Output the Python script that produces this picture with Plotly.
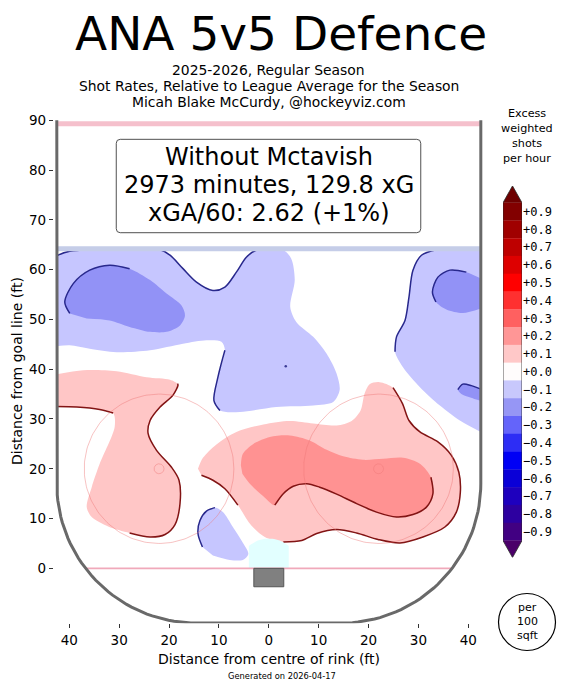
import numpy as np
import plotly.graph_objects as go

# ---------------- data ----------------
title = "ANA 5v5 Defence"
subtitle_lines = ["2025-2026, Regular Season",
                  "Shot Rates, Relative to League Average for the Season",
                  "Micah Blake McCurdy, @hockeyviz.com"]
box_lines = ["Without Mctavish", "2973 minutes, 129.8 xG", "xGA/60: 2.62 (+1%)"]

cbar_levels = [0.9, 0.8, 0.7, 0.6, 0.5, 0.4, 0.3, 0.2, 0.1, 0.0,
               -0.1, -0.2, -0.3, -0.4, -0.5, -0.6, -0.7, -0.8, -0.9]
cbar_colors = ["rgb(130,0,0)", "rgb(160,0,0)", "rgb(190,0,0)", "rgb(222,0,0)",
               "rgb(255,0,0)", "rgb(255,48,48)", "rgb(255,96,96)", "rgb(255,150,150)",
               "rgb(255,200,200)", "rgb(255,252,252)", "rgb(200,200,252)",
               "rgb(150,150,245)", "rgb(100,100,250)", "rgb(45,45,245)", "rgb(0,0,245)",
               "rgb(10,0,215)", "rgb(30,0,190)", "rgb(45,0,160)", "rgb(65,0,130)"]
cbar_over = "rgb(110,0,0)"
cbar_under = "rgb(75,0,105)"

x_tick_vals = [-40, -30, -20, -10, 0, 10, 20, 30, 40]
x_tick_text = ["40", "30", "20", "10", "0", "10", "20", "30", "40"]
y_tick_vals = [0, 10, 20, 30, 40, 50, 60, 70, 80, 90]

# contour regions (ft): level, x, y
regA_x = [-42.5, -39.9, -21.8, -19.8, -17.2, -14.5, -11.2, -8.8, -6.5, -4.5, -2.5, 2.9, 4.5, 5.2, 4.3,
          5.5, 8.9, 11.6, 13.6, 14.2, 12.9, 8.9, 1.5, -5.8, -9.8, -11.0, -10.2, -8.8, -9.5, -12.5,
          -17.2, -23.8, -30.5, -35.9, -39.9, -42.5]
regA_y = [62.8, 63.7, 64.0, 62.9, 60.2, 57.5, 55.8, 56.5, 59.5, 62.5, 63.9, 63.9, 62.2, 57.9, 52.5,
          49.5, 46.5, 43.1, 39.1, 35.8, 33.4, 32.7, 32.4, 31.4, 31.7, 33.7, 38.4, 43.8, 45.5, 45.8,
          45.1, 43.8, 43.4, 44.1, 44.8, 44.6]
regB_x = [-39.9, -40.9, -39.2, -35.9, -31.9, -27.9, -23.8, -20.5, -17.5, -16.8, -17.8, -20.5, -23.8,
          -27.9, -31.9, -36.5]
regB_y = [51.2, 53.5, 57.2, 59.9, 60.9, 60.2, 57.9, 55.2, 52.8, 50.8, 48.8, 47.5, 47.5, 48.5, 49.8, 50.2]
regC_x = [42.5, 33.6, 30.6, 28.9, 28.1, 27.3, 25.6, 25.3, 26.9, 30.3, 34.3, 38.3, 42.5]
regC_y = [64.0, 64.0, 62.9, 59.9, 54.5, 49.8, 46.5, 43.5, 40.4, 36.4, 32.7, 29.7, 27.4]
regD_x = [42.5, 39.6, 36.3, 33.9, 32.8, 33.5, 35.6, 38.9, 42.5]
regD_y = [58.2, 59.5, 59.9, 58.5, 55.5, 53.5, 52.0, 51.3, 52.2]
regE_x = [42.5, 40.6, 38.9, 37.9, 38.6, 40.4, 42.5]
regE_y = [36.0, 36.7, 37.0, 35.9, 35.0, 34.3, 33.6]
regF_x = [-42.5, -37.2, -30.5, -24.5, -19.8, -18.3, -18.2, -19.2, -21.8, -23.8, -24.2, -22.5, -19.5,
          -18.0, -17.8, -18.8, -20.8, -23.8, -27.9, -32.2, -35.5, -36.5, -35.5, -33.9, -30.9, -31.2,
          -33.9, -38.5, -42.5]
regF_y = [39.0, 39.8, 39.6, 38.4, 37.9, 37.1, 36.8, 34.8, 32.4, 29.7, 27.1, 23.7, 20.3, 17.7, 13.0,
          8.8, 6.8, 6.3, 7.1, 8.4, 10.3, 12.3, 16.3, 21.0, 28.4, 31.2, 31.9, 32.4, 32.5]
regG_x = [-14.2, -13.2, -10.5, -6.5, -1.1, 4.2, 8.9, 13.6, 16.6, 18.4, 19.2, 20.2, 22.2, 24.9, 26.8,
          28.1, 30.3, 33.9, 36.6, 38.1, 38.4, 37.6, 35.3, 30.9, 26.3, 21.9, 17.6, 13.6, 9.6, 6.6, 2.9,
          -0.8, -3.5, -6.2, -8.8, -11.2, -13.5]
regG_y = [20.0, 22.2, 24.9, 27.4, 28.9, 29.6, 29.1, 28.7, 29.6, 31.7, 35.1, 37.0, 37.4, 36.3, 33.1,
          29.7, 27.4, 25.4, 22.7, 19.3, 15.3, 11.3, 8.3, 6.3, 5.1, 5.8, 7.1, 7.8, 7.0, 5.6, 5.3,
          6.3, 8.6, 12.7, 16.0, 17.7, 18.7]
regH_x = [-5.6, -5.2, -3.1, 0.2, 4.2, 8.2, 11.6, 14.9, 18.9, 22.9, 26.9, 30.3, 32.5, 32.9, 31.6, 28.9,
          25.6, 21.6, 17.6, 13.6, 10.2, 7.6, 4.9, 2.9, 1.2, -1.1, -3.8, -5.3]
regH_y = [20.7, 23.0, 25.0, 26.4, 26.7, 25.7, 23.8, 22.5, 21.8, 22.0, 22.2, 21.0, 18.3, 15.0, 12.3,
          10.8, 10.3, 11.3, 13.0, 14.9, 16.3, 17.0, 16.5, 15.0, 12.7, 14.5, 17.0, 19.0]
regI_x = [-13.3, -14.2, -13.8, -12.5, -10.8, -9.2, -7.2, -5.3, -4.1, -5.2, -7.8, -11.2]
regI_y = [4.3, 7.0, 9.6, 11.5, 12.2, 11.3, 8.3, 5.3, 2.9, 1.7, 1.7, 2.6]
speck_x = [3.4]
speck_y = [40.6]

regions = [
    # (x, y, level, dark-edge index ranges)
    (regA_x, regA_y, -0.1, [(0, 11), (24, 27)]),
    (regC_x, regC_y, -0.1, [(1, 7)]),
    (regI_x, regI_y, -0.1, [(0, 4)]),
    (regB_x, regB_y, -0.2, [(0, 5)]),
    (regD_x, regD_y, -0.2, [(1, 5)]),
    (regE_x, regE_y, -0.2, [(0, 3)]),
    (regF_x, regF_y, 0.1, [(5, 18), (25, 28)]),
    (regG_x, regG_y, 0.1, [(13, 30), (33, 36)]),
    (regH_x, regH_y, 0.2, [(12, 24)]),
]
fill_colors = {-0.1: "rgb(198,198,255)", -0.2: "rgb(146,146,246)",
               0.1: "rgb(255,198,198)", 0.2: "rgb(255,146,146)"}

# ---------------- figure ----------------
FONT = "DejaVu Sans"
W, H = 565, 691
fig = go.Figure()

def px_x(p):
    return p / W

def px_y(p):
    return 1 - p / H

smooth = 0.85
for xs, ys, lev, edges in regions:
    fig.add_trace(go.Scatter(x=xs, y=ys, mode="lines", fill="toself",
                             fillcolor=fill_colors[lev],
                             line=dict(width=0, color=fill_colors[lev], shape="spline", smoothing=smooth),
                             hoverinfo="skip", showlegend=False))
for xs, ys, lev, edges in regions:
    ec = "rgb(40,40,140)" if lev < 0 else "rgb(130,20,20)"
    for a, b in edges:
        fig.add_trace(go.Scatter(x=xs[a:b + 1], y=ys[a:b + 1], mode="lines",
                                 line=dict(width=1.5, color=ec, shape="spline", smoothing=smooth),
                                 hoverinfo="skip", showlegend=False))
fig.add_trace(go.Scatter(x=speck_x, y=speck_y, mode="markers",
                         marker=dict(size=2.5, color="rgb(60,60,150)", line=dict(width=0)),
                         hoverinfo="skip", showlegend=False))

# crease
ang = np.linspace(np.arccos(-4 / 6), np.arccos(4 / 6), 30)
cx = np.concatenate([[-4, -4], 6 * np.cos(ang), [4, 4]])
cy = np.concatenate([[0, 6 * np.sin(ang[0])], 6 * np.sin(ang), [6 * np.sin(ang[-1]), 0]])
fig.add_trace(go.Scatter(x=cx, y=cy, mode="lines", fill="toself", fillcolor="rgb(226,255,255)",
                         line=dict(width=0), hoverinfo="skip", showlegend=False))

# centre red line and blue line bands
for y0, y1, col in [(88.8, 89.8, "rgb(245,192,204)"), (63.7, 64.7, "rgb(197,205,232)")]:
    fig.add_trace(go.Scatter(x=[-42.5, 42.5, 42.5, -42.5], y=[y0, y0, y1, y1], mode="lines",
                             fill="toself", fillcolor=col, line=dict(width=0),
                             hoverinfo="skip", showlegend=False))

# goal line
gl = 14.5 + np.sqrt(28 ** 2 - 17 ** 2)
fig.add_trace(go.Scatter(x=[-gl, gl], y=[0, 0], mode="lines",
                         line=dict(width=1.6, color="rgba(238,160,178,0.9)"),
                         hoverinfo="skip", showlegend=False))

# faceoff circles and dots
t = np.linspace(0, 2 * np.pi, 200)
for fx in (-22, 22):
    for r in (15, 1):
        fig.add_trace(go.Scatter(x=fx + r * np.cos(t), y=20 + r * np.sin(t), mode="lines",
                                 line=dict(width=1, color="rgba(238,120,120,0.45)"),
                                 hoverinfo="skip", showlegend=False))

# boards
a1 = np.linspace(np.pi, 1.5 * np.pi, 40)
a2 = np.linspace(1.5 * np.pi, 2 * np.pi, 40)
bx = np.concatenate([[-42.5], -14.5 + 28 * np.cos(a1), 14.5 + 28 * np.cos(a2), [42.5]])
by = np.concatenate([[90], 17 + 28 * np.sin(a1), 17 + 28 * np.sin(a2), [90]])
fig.add_trace(go.Scatter(x=bx, y=by, mode="lines", line=dict(width=3, color="rgb(105,105,105)"),
                         hoverinfo="skip", showlegend=False))

# net
fig.add_trace(go.Scatter(x=[-3, 3, 3, -3, -3], y=[0, 0, -3.7, -3.7, 0], mode="lines", fill="toself",
                         fillcolor="rgb(128,128,128)", line=dict(width=1, color="rgb(85,85,85)"),
                         hoverinfo="skip", showlegend=False))

# ---------------- colorbar ----------------
fig.add_trace(go.Bar(x=[0.5] * len(cbar_levels), y=[0.102] * len(cbar_levels),
                     base=[l - 0.051 for l in cbar_levels], width=1,
                     marker=dict(color=cbar_colors, line=dict(width=0)),
                     xaxis="x2", yaxis="y2", hoverinfo="skip", showlegend=False))
top = max(cbar_levels) + 0.05
bot = min(cbar_levels) - 0.05
fig.add_trace(go.Scatter(x=[0, 0.5, 1], y=[top, top + 0.095, top], mode="lines", fill="toself",
                         fillcolor=cbar_over, line=dict(width=0), xaxis="x2", yaxis="y2",
                         hoverinfo="skip", showlegend=False))
fig.add_trace(go.Scatter(x=[0, 0.5, 1], y=[bot, bot - 0.095, bot], mode="lines", fill="toself",
                         fillcolor=cbar_under, line=dict(width=0), xaxis="x2", yaxis="y2",
                         hoverinfo="skip", showlegend=False))
fig.add_trace(go.Scatter(x=[0, 0, 0.5, 1, 1, 0.5, 0], y=[bot, top, top + 0.095, top, bot, bot - 0.095, bot],
                         mode="lines", line=dict(width=0.8, color="rgb(40,40,40)"),
                         xaxis="x2", yaxis="y2", hoverinfo="skip", showlegend=False))

def fmt(v):
    s = f"{abs(v):.1f}"
    return ("+" if v >= 0 else "\u2212") + s

# ---------------- layout ----------------
tickfont = dict(family=FONT, size=13.5, color="black")
fig.update_layout(
    width=W, height=H, margin=dict(l=0, r=0, t=0, b=0),
    paper_bgcolor="white", plot_bgcolor="white", barmode="overlay",
    xaxis=dict(domain=[px_x(53.8), px_x(483.8)], range=[-43.1, 43.1], tickvals=x_tick_vals,
               ticktext=x_tick_text, ticks="outside", ticklen=4, tickcolor="#333", showgrid=False,
               zeroline=False, showline=False, tickfont=tickfont, automargin=False, fixedrange=True),
    yaxis=dict(domain=[px_y(623.3), px_y(120.05)], range=[-11.04, 90.05], tickvals=y_tick_vals,
               ticks="outside", ticklen=4, tickcolor="#333", showgrid=False, zeroline=False,
               showline=False, tickfont=tickfont, automargin=False, fixedrange=True),
    xaxis2=dict(domain=[px_x(503), px_x(522)], range=[0, 1], visible=False, fixedrange=True),
    yaxis2=dict(domain=[px_y(557.5), px_y(185.9)], range=[-1.045, 1.045], anchor="x2", side="right",
                tickvals=cbar_levels, ticktext=[fmt(v) for v in cbar_levels], ticks="",
                showgrid=False, zeroline=False, showline=False, automargin=False, fixedrange=True,
                tickfont=dict(family="DejaVu Sans Mono", size=12, color="black")),
)

# text box
x0, x1, y0, y1, r = -30.58, 30.46, 67.42, 86.18, 0.8
path = (f"M {x0 + r},{y0} L {x1 - r},{y0} Q {x1},{y0} {x1},{y0 + r} L {x1},{y1 - r} "
        f"Q {x1},{y1} {x1 - r},{y1} L {x0 + r},{y1} Q {x0},{y1} {x0},{y1 - r} "
        f"L {x0},{y0 + r} Q {x0},{y0} {x0 + r},{y0} Z")
fig.add_shape(type="path", path=path, xref="x", yref="y", fillcolor="white",
              line=dict(color="rgb(80,80,80)", width=1), layer="above")

# per 100 sqft circle
fig.add_shape(type="circle", xref="paper", yref="paper", x0=px_x(498.5), x1=px_x(555.5),
              y0=px_y(650.5), y1=px_y(593.5), line=dict(color="black", width=1.2))

def ann(text, x, y, size, color="black", family=FONT, angle=0):
    fig.add_annotation(text=text, x=px_x(x), y=px_y(y), xref="paper", yref="paper",
                       showarrow=False, xanchor="center", yanchor="middle", textangle=angle,
                       font=dict(family=family, size=size, color=color))

ann(title, 281, 33, 47)
for txt, yy in zip(subtitle_lines, [70, 86, 102]):
    ann(txt, 268.5, yy, 13.9)
for txt, yy in zip(box_lines, [157, 185, 212.5]):
    ann(txt, 268.5, yy, 24)
for txt, yy in zip(["Excess", "weighted", "shots", "per hour"], [113, 128, 143, 158]):
    ann(txt, 527, yy, 11.2)
for txt, yy in zip(["per", "100", "sqft"], [607, 621.5, 635.5]):
    ann(txt, 527, yy, 11)
ann("Distance from goal line (ft)", 17, 371, 14, angle=-90)
ann("Distance from centre of rink (ft)", 269, 659, 14)
ann("Generated on 2026-04-17", 282, 676, 8.3)

fig.write_html("out.html", config={"displayModeBar": False})
